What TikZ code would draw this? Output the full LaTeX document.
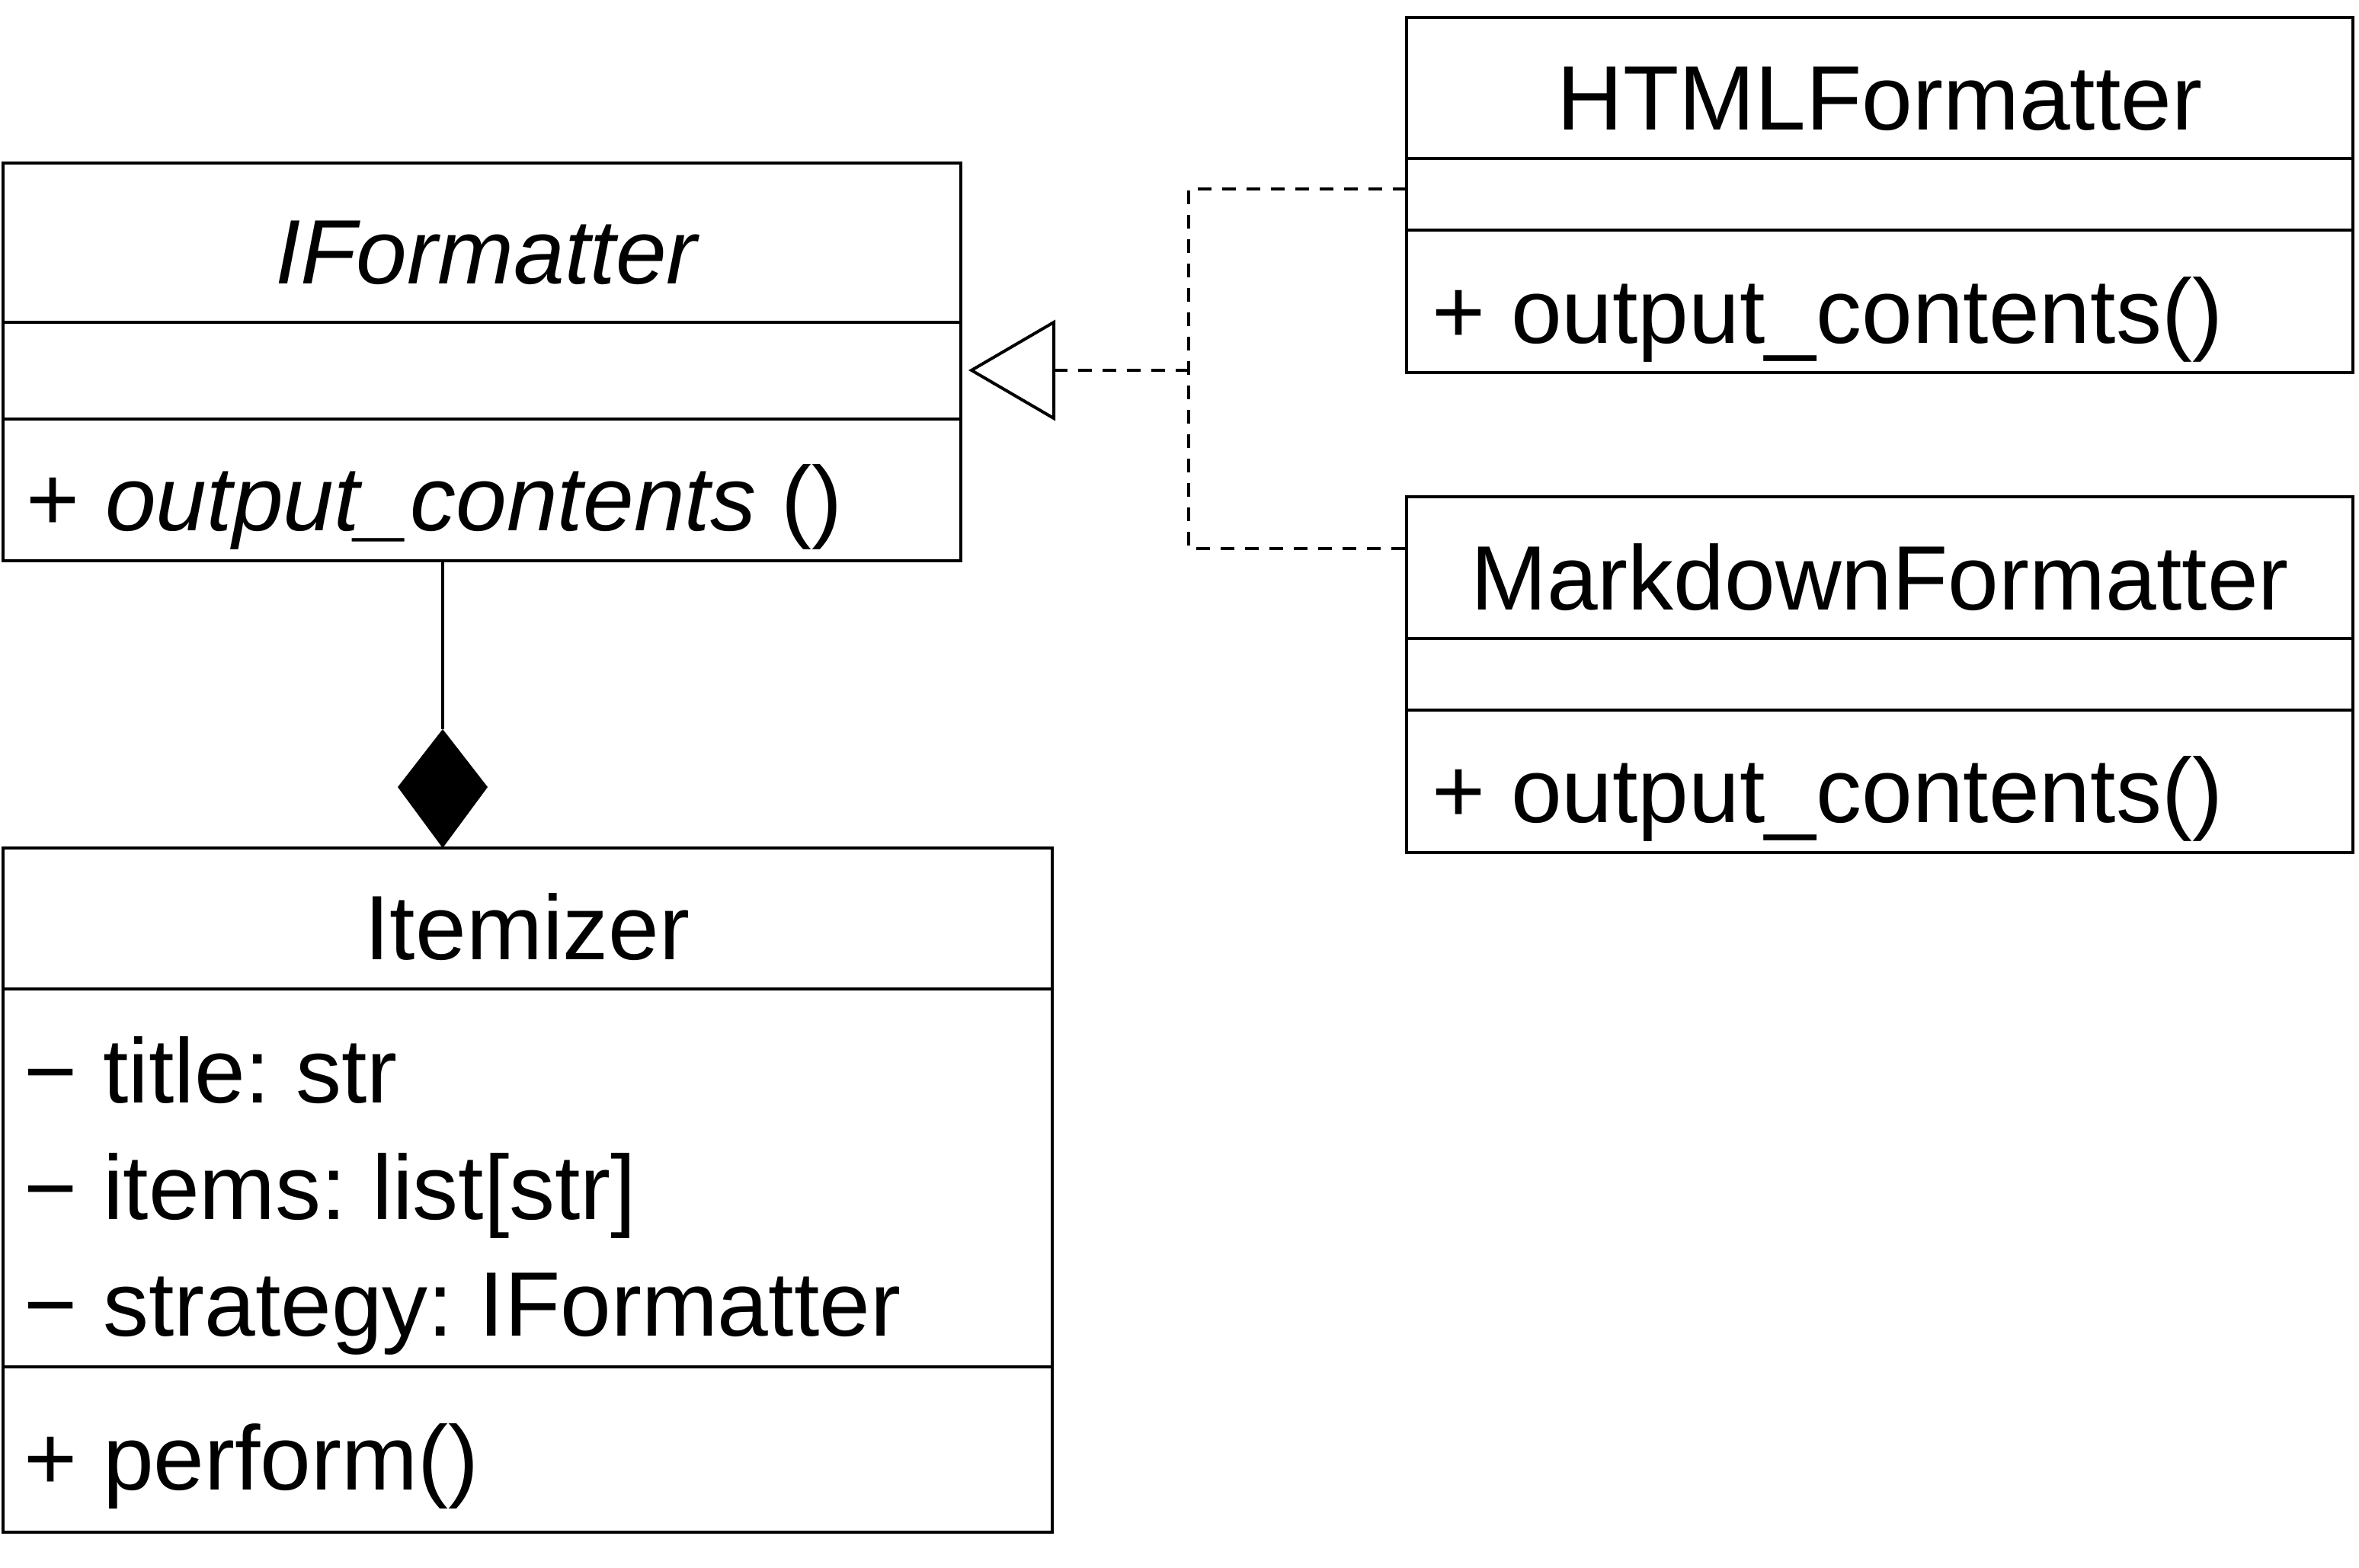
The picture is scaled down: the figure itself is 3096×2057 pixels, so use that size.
\documentclass[tikz,border=0pt]{standalone}
\usepackage{fontspec}
\setmainfont{Liberation Sans}
\usetikzlibrary{calc}
\frenchspacing
\begin{document}
\frenchspacing
\begin{tikzpicture}[x=0.25pt,y=-0.25pt,
  cls/.style={draw, rectangle, inner sep=0pt, outer sep=0pt, line width=1pt, anchor=north west},
  ttl/.style={anchor=base, inner sep=0pt, font=\fontsize{30}{36}\selectfont},
  mem/.style={anchor=base west, inner sep=0pt, font=\fontsize{30}{36}\selectfont},
  sepline/.style={line width=1pt},
  dashline/.style={line width=1pt, dash pattern=on 4.5pt off 3.5pt},
  conn/.style={line width=1pt}]
\useasboundingbox (0,0) rectangle (3096,2057);

% IFormatter
\node[cls, minimum width=314.25pt, minimum height=130.5pt] (ifmt) at (4,214) {};
\draw[sepline] (4,423) -- (1261,423);
\draw[sepline] (4,550) -- (1261,550);
\node[ttl] (ifmtT) at (640,372) {\textit{IFormatter}};
\node[mem] (ifmtM) at (34,696) {+ \textit{output\_contents} ()};

% HTMLFormatter
\node[cls, minimum width=310.5pt, minimum height=116.5pt] (hfmt) at (1846,23) {};
\draw[sepline] (1846,208) -- (3088,208);
\draw[sepline] (1846,302) -- (3088,302);
\node[ttl] (hfmtT) at (2467,170) {HTMLFormatter};
\node[mem] (hfmtM) at (1879,450) {+ output\_contents()};

% MarkdownFormatter
\node[cls, minimum width=310.5pt, minimum height=116.75pt] (mfmt) at (1846,652) {};
\draw[sepline] (1846,838) -- (3088,838);
\draw[sepline] (1846,932) -- (3088,932);
\node[ttl] (mfmtT) at (2467,800) {MarkdownFormatter};
\node[mem] (mfmtM) at (1879,1079) {+ output\_contents()};

% Itemizer
\node[cls, minimum width=344.25pt, minimum height=224.5pt] (itm) at (4,1113) {};
\draw[sepline] (4,1298) -- (1381,1298);
\draw[sepline] (4,1794) -- (1381,1794);
\node[ttl] (itmT) at (692,1259) {Itemizer};
\node[mem] (itmA1) at (31,1447) {− title: str};
\node[mem] (itmA2) at (31,1600) {− items: list[str]};
\node[mem] (itmA3) at (31,1753) {− strategy: IFormatter};
\node[mem] (itmM) at (31,1955) {+ perform()};

% realization (dashed with hollow triangle)
\coordinate (tip) at (1275,486);
\coordinate (tbase) at (1383,486);
\coordinate (jt) at (1560,248);
\coordinate (jb) at (1560,720);
\draw[conn, line join=miter] (tip) -- (1383,423) -- (1383,549) -- cycle;
\draw[dashline] (tbase) -- (jt |- tbase);
\draw[dashline] (hfmt.west |- jt) -- (jt) -- (jb) -- (mfmt.west |- jb);

% composition (filled diamond)
\coordinate (dtop) at (581,957);
\draw[conn] (dtop |- ifmt.south) -- (dtop);
\fill (dtop) -- (522,1033) -- (dtop |- itm.north) -- (640,1033) -- cycle;
\end{tikzpicture}
\end{document}
